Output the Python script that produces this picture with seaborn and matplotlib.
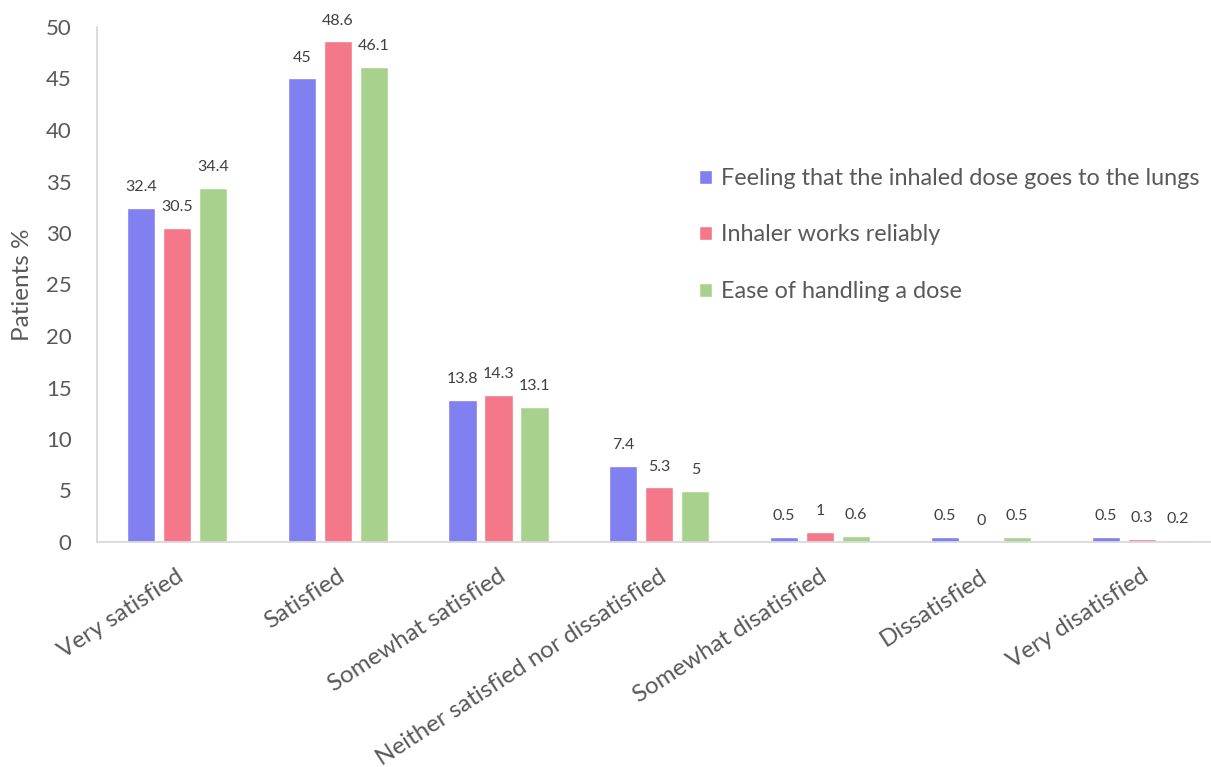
import matplotlib
matplotlib.use("Agg")
import matplotlib.pyplot as plt
import matplotlib.transforms as mtransforms
import seaborn as sns
import pandas as pd

categories = ["Very satisfied", "Satisfied", "Somewhat satisfied",
              "Neither satisfied nor dissatisfied", "Somewhat disatisfied",
              "Dissatisfied", "Very disatisfied"]
series_names = ["Feeling that the inhaled dose goes to the lungs",
                "Inhaler works reliably",
                "Ease of handling a dose"]
lungs = [32.4, 45, 13.8, 7.4, 0.5, 0.5, 0.5]
reliable = [30.5, 48.6, 14.3, 5.3, 1, 0, 0.3]
ease = [34.4, 46.1, 13.1, 5, 0.6, 0.5, 0.2]
colors = ["#8080F0", "#F4788A", "#A9D18E"]
y_ticks = [0, 5, 10, 15, 20, 25, 30, 35, 40, 45, 50]

rows = []
for name, vals in zip(series_names, [lungs, reliable, ease]):
    for c, v in zip(categories, vals):
        rows.append({"category": c, "series": name, "value": v})
df = pd.DataFrame(rows)

sns.set_style("white")
plt.rcParams["font.family"] = ["Lato", "DejaVu Sans"]
text_color = "#595959"

W, H = 1211, 767
fig = plt.figure(figsize=(W / 100, H / 100), dpi=100)
left_px, right_px, y0_px, y50_px = 96.6, 1222, 542, 27
ax = fig.add_axes([left_px / W, 1 - y0_px / H, (right_px - left_px) / W, (y0_px - y50_px) / H])

sns.barplot(data=df, x="category", y="value", hue="series", order=categories,
            hue_order=series_names, palette=colors, width=0.672, gap=0.22,
            saturation=1, errorbar=None, ax=ax, legend=True)

for cont in ax.containers:
    ax.bar_label(cont, fmt="%g", padding=10, fontsize=11.5, color="#404040")

ax.set_xlim(-0.5, 6.5)
ax.set_ylim(0, 50)
ax.set_yticks(y_ticks)
ax.set_xlabel("")
ax.set_ylabel("Patients %", fontsize=17.5, color=text_color)
ax.yaxis.set_label_coords((33 - left_px) / (right_px - left_px), (y0_px - 285) / (y0_px - y50_px))

ax.tick_params(axis="y", length=0, pad=18, labelsize=16, labelcolor=text_color)
ax.tick_params(axis="x", length=0, pad=17, labelsize=17.4, labelcolor=text_color)
offset = mtransforms.ScaledTranslation(-0.01, 0, fig.dpi_scale_trans)
for lbl in ax.get_xticklabels():
    lbl.set_rotation(33)
    lbl.set_ha("right")
    lbl.set_va("top")
    lbl.set_rotation_mode("anchor")
    lbl.set_transform(lbl.get_transform() + offset)

for s in ["top", "right"]:
    ax.spines[s].set_visible(False)
for s in ["left", "bottom"]:
    ax.spines[s].set_color("#D9D9D9")
    ax.spines[s].set_linewidth(1.3)
ax.grid(False)

handles, labels = ax.get_legend_handles_labels()
ax.legend(handles, labels, loc="upper left",
          bbox_to_anchor=(699 / W, 1 - 168 / H), bbox_transform=fig.transFigure,
          frameon=False, fontsize=16.8, labelcolor=text_color,
          handlelength=0.55, handleheight=0.55, handletextpad=0.4,
          labelspacing=1.52, borderpad=0, borderaxespad=0)

fig.savefig("out.png", dpi=100)
